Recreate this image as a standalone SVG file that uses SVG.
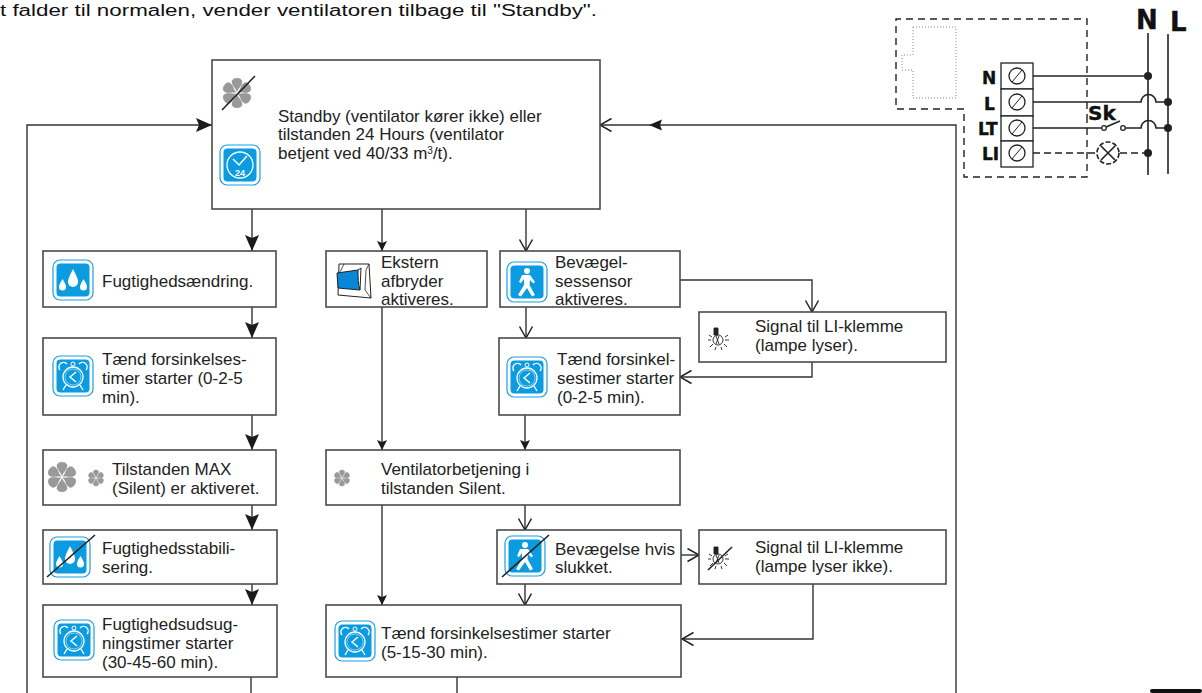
<svg xmlns="http://www.w3.org/2000/svg" width="1202" height="693" viewBox="0 0 1202 693">
<style>
text{font-family:"Liberation Sans",Arial,sans-serif;font-size:17px;fill:#222}
.box{fill:#fff;stroke:#4a4a4a;stroke-width:1.6}
.c{fill:none;stroke:#333;stroke-width:1.4}
.f{fill:#1b1b1b;stroke:none}
.t{font-family:"DejaVu Sans",sans-serif;font-weight:bold;fill:#111;font-size:17px;stroke:#111;stroke-width:.4}
.slash{stroke:#222;stroke-width:1.6}
</style>
<defs>
<path id="petal" d="M0 -1.500C-1 -5 -5.200 -7.500 -5 -11.500C-4.500 -15.800 4.500 -15.800 5 -11.500C5.200 -7.500 1 -5 0 -1.500Z" fill="#999" stroke="#8a8a8a" stroke-width=".5"/>
<g id="fan"><use href="#petal"/><use href="#petal" transform="rotate(60)"/><use href="#petal" transform="rotate(120)"/><use href="#petal" transform="rotate(180)"/><use href="#petal" transform="rotate(240)"/><use href="#petal" transform="rotate(300)"/></g>
<g id="frame"><rect x="-20" y="-20" width="40" height="40" rx="7" fill="#fff" stroke="#1a9ee0" stroke-width="1.2"/><rect x="-16.500" y="-16.500" width="33" height="33" rx="4" fill="#0a9be0"/></g>
<g id="alarm"><use href="#frame"/><circle r="10" cy="1" fill="none" stroke="#fff" stroke-width="1.3"/><circle r="8" cy="1" fill="none" stroke="#fff" stroke-width=".5"/><path d="M3 -4L-3 1L3 6" fill="none" stroke="#fff" stroke-width="1.500"/><path d="M-13 -6A4.500 4.500 0 0 1 -6 -12M13 -6A4.500 4.500 0 0 0 6 -12M-7 9L-10 14M7 9L10 14" fill="none" stroke="#fff" stroke-width="1.4"/><circle cy="-12" r="2" fill="none" stroke="#fff"/></g>
<g id="drops"><use href="#frame"/><g fill="#fff"><path d="M-10.500 -1C-13 3 -14 5 -14 7A3.500 3.500 0 0 0 -7 7C-7 5 -8 3 -10.500 -1Z"/><path d="M0 -11C-3.500 -4 -5 -1 -5 2A5 5 0 0 0 5 2C5 -1 3.500 -4 0 -11Z"/><path d="M10.500 -1C8 3 7 5 7 7A3.500 3.500 0 0 0 14 7C14 5 13 3 10.500 -1Z"/></g></g>
<g id="walk"><use href="#frame"/><circle cx="0" cy="-11" r="3" fill="#fff"/><path d="M-5 -7H3L8 0L6.500 1.500L3 -2L2.500 3L8 13L5 14.500L0 6L-6 14.500L-9 13L-3 3L-3 -3L-6 1L-8 0Z" fill="#fff"/></g>
<g id="bulb" fill="none" stroke="#222" stroke-width=".9"><path d="M-5 -11H-1V-4H-5Z" fill="#222"/><circle cx="-1" cy="1" r="5"/><path d="M-3 -3L0 5M0 -3L-3 5" /><path d="M-11 1H-8M6 1H10M-10 -4L-7 -2M9 -4L6 -2M-9 8L-6 5M8 8L5 5M-4 11L-3 8M3 11L2 8"/></g>
<marker id="big" markerUnits="userSpaceOnUse" markerWidth="18" markerHeight="16" refX="16" refY="7.500" orient="auto"><path d="M0 0.500L16 7.500L0 14.500L3 7.500Z" class="f"/></marker>
<marker id="open" markerUnits="userSpaceOnUse" markerWidth="14" markerHeight="16" refX="12.500" refY="7.500" orient="auto"><path d="M1 1L12.500 7.500L1 14" fill="none" stroke="#222" stroke-width="1.500"/></marker>
<marker id="small" markerUnits="userSpaceOnUse" markerWidth="12" markerHeight="12" refX="10" refY="5" orient="auto"><path d="M0 0L10 5L0 10L2 5Z" class="f"/></marker>
</defs>

<text x="0" y="15.500" textLength="597" lengthAdjust="spacingAndGlyphs" style="font-size:16px;fill:#111">t falder til normalen, vender ventilatoren tilbage til "Standby".</text>

<g id="connectors">
<path class="c" d="M27 693V125H212" marker-end="url(#big)"/>
<path class="c" d="M956 693V125H600" marker-end="url(#open)"/>
<path class="f" d="M649 125L662 119.500L660 125L662 130.500Z"/>
<path class="c" d="M252 209V251" marker-end="url(#big)"/>
<path class="c" d="M382 209V251" marker-end="url(#small)"/>
<path class="c" d="M526 209V251" marker-end="url(#open)"/>
<path class="c" d="M252 307V338" marker-end="url(#big)"/>
<path class="c" d="M252 415V450" marker-end="url(#big)"/>
<path class="c" d="M252 505V530" marker-end="url(#big)"/>
<path class="c" d="M252 584V605" marker-end="url(#big)"/>
<path class="c" d="M251 677V693"/>
<path class="c" d="M382 307V450" marker-end="url(#small)"/>
<path class="c" d="M526 307V338" marker-end="url(#open)"/>
<path class="c" d="M680 280H812V312" marker-end="url(#open)"/>
<path class="c" d="M812 362V377H680" marker-end="url(#open)"/>
<path class="c" d="M525 415V450" marker-end="url(#small)"/>
<path class="c" d="M525 505V530" marker-end="url(#open)"/>
<path class="c" d="M382 505V605" marker-end="url(#small)"/>
<path class="c" d="M525 584V605" marker-end="url(#open)"/>
<path class="c" d="M681 555H699" marker-end="url(#open)"/>
<path class="c" d="M813 584V639H682" marker-end="url(#open)"/>
<path class="c" d="M457 677V693"/>
</g>

<g id="node-standby">
<rect class="box" x="212" y="60" width="388" height="149"/>
<use href="#fan" transform="translate(237,93)"/>
<path class="slash" d="M222 110L255 76"/>
<use href="#frame" transform="translate(240,165)"/>
<circle cx="240" cy="165" r="13" fill="none" stroke="#fff" stroke-width="1.3"/>
<path d="M233 159L239 165L247 156" fill="none" stroke="#fff" stroke-width="1.500"/>
<text x="240" y="176" text-anchor="middle" style="font-size:9px;fill:#fff;font-weight:bold">24</text>
<text x="278" y="122">Standby (ventilator kører ikke) eller</text>
<text x="278" y="140">tilstanden 24 Hours (ventilator</text>
<text x="278" y="159">betjent ved 40/33 m<tspan dy="-5" style="font-size:10px">3</tspan><tspan dy="5">/t).</tspan></text>
</g>

<g id="node-fugt">
<rect class="box" x="43" y="251" width="233" height="56"/>
<use href="#drops" transform="translate(73,280)"/>
<text x="102" y="287">Fugtighedsændring.</text>
</g>

<g id="node-taend1">
<rect class="box" x="43" y="338" width="233" height="77"/>
<use href="#alarm" transform="translate(73,376)"/>
<text x="102" y="365">Tænd forsinkelses-</text>
<text x="102" y="384">timer starter (0-2-5</text>
<text x="102" y="403">min).</text>
</g>

<g id="node-max">
<rect class="box" x="43" y="450" width="233" height="55"/>
<use href="#fan" transform="translate(62,477)"/>
<use href="#fan" transform="translate(96,478) scale(.55)"/>
<text x="112" y="475">Tilstanden MAX</text>
<text x="112" y="494">(Silent) er aktiveret.</text>
</g>

<g id="node-stabil">
<rect class="box" x="43" y="530" width="234" height="54"/>
<use href="#drops" transform="translate(70,557)"/>
<path class="slash" d="M47 577L95 535"/>
<text x="102" y="554">Fugtighedsstabili-</text>
<text x="102" y="573">sering.</text>
</g>

<g id="node-udsug">
<rect class="box" x="43" y="605" width="234" height="72"/>
<use href="#alarm" transform="translate(74,640)"/>
<text x="102" y="630">Fugtighedsudsug-</text>
<text x="102" y="649">ningstimer starter</text>
<text x="102" y="668">(30-45-60 min).</text>
</g>

<g id="node-ekstern">
<rect class="box" x="326" y="251" width="161" height="56"/>
<path d="M339 264L369 264L371 298L338 295Z" fill="#fff" stroke="#222" stroke-width="1"/>
<path d="M344 264L340 272M369 264L366 270L365 290L371 298" fill="none" stroke="#222" stroke-width=".8"/>
<path d="M337 273L358 270C358 278 358 284 360 290L338 288Z" fill="#0a86d8" stroke="#222" stroke-width="1"/>
<path d="M358 270L361 268L360 290" fill="none" stroke="#222" stroke-width="1"/>
<text x="381" y="268">Ekstern</text>
<text x="381" y="287">afbryder</text>
<text x="381" y="305">aktiveres.</text>
</g>

<g id="node-bevaegel">
<rect class="box" x="500" y="251" width="180" height="56"/>
<use href="#walk" transform="translate(527,282)"/>
<text x="555" y="268">Bevægel-</text>
<text x="555" y="287">sessensor</text>
<text x="555" y="305">aktiveres.</text>
</g>

<g id="node-signal1">
<rect class="box" x="699" y="312" width="247" height="50"/>
<use href="#bulb" transform="translate(719,339)"/>
<text x="755" y="332">Signal til LI-klemme</text>
<text x="755" y="351">(lampe lyser).</text>
</g>

<g id="node-taend2">
<rect class="box" x="499" y="338" width="181" height="77"/>
<use href="#alarm" transform="translate(527,377)"/>
<text x="557" y="365">Tænd forsinkel-</text>
<text x="557" y="384">sestimer starter</text>
<text x="557" y="403">(0-2-5 min).</text>
</g>

<g id="node-vent">
<rect class="box" x="326" y="450" width="354" height="55"/>
<use href="#fan" transform="translate(342,478) scale(.55)"/>
<text x="381" y="475">Ventilatorbetjening i</text>
<text x="381" y="494">tilstanden Silent.</text>
</g>

<g id="node-bevaegelse">
<rect class="box" x="497" y="530" width="184" height="54"/>
<use href="#walk" transform="translate(525,556)"/>
<path class="slash" d="M502 577L549 535"/>
<text x="555" y="555">Bevægelse hvis</text>
<text x="555" y="573">slukket.</text>
</g>

<g id="node-signal2">
<rect class="box" x="699" y="530" width="247" height="54"/>
<use href="#bulb" transform="translate(719,558)"/>
<path class="slash" d="M708 570L732 547"/>
<text x="755" y="553">Signal til LI-klemme</text>
<text x="755" y="572">(lampe lyser ikke).</text>
</g>

<g id="node-taend3">
<rect class="box" x="326" y="605" width="355" height="72"/>
<use href="#alarm" transform="translate(355,641)"/>
<text x="381" y="639">Tænd forsinkelsestimer starter</text>
<text x="381" y="658">(5-15-30 min).</text>
</g>

<g id="wiring">
<path d="M1087 121V19H896V109H964V177H1087V121" fill="none" stroke="#222" stroke-width="1.4" stroke-dasharray="7 5"/>
<path d="M913 27H956V98H913V70H902V55H913Z" fill="none" stroke="#888" stroke-width="1" stroke-dasharray="1 2"/>
<g fill="#fff" stroke="#222" stroke-width="1.3">
<rect x="1001" y="63" width="32" height="26"/><rect x="1001" y="89" width="32" height="27"/><rect x="1001" y="116" width="32" height="25"/><rect x="1001" y="141" width="32" height="26"/>
<circle cx="1017" cy="76" r="8"/><circle cx="1017" cy="102" r="8"/><circle cx="1017" cy="128" r="8"/><circle cx="1017" cy="153" r="8"/>
</g>
<path d="M1012 82L1022 70M1012 108L1022 96M1012 134L1022 122M1012 159L1022 147" stroke="#222" stroke-width="1"/>
<g stroke="#222" stroke-width="1.6" fill="none">
<path d="M1148 33V175M1168 34V174"/>
<path d="M1033 76H1148"/>
<path d="M1033 102H1141A7 7 0 0 1 1156 102H1168"/>
<path d="M1033 128H1101M1124 128H1141A7 7 0 0 1 1156 128H1168"/>
<path d="M1106 127L1120 121"/>
<path d="M1033 153H1097M1120 153H1148" stroke-dasharray="7 4"/>
<circle cx="1108" cy="153" r="11" stroke-dasharray="5 2"/>
<path d="M1101 146L1115 160M1115 146L1101 160"/>
</g>
<circle cx="1104" cy="128" r="2.300" fill="#fff" stroke="#222" stroke-width="1.3"/>
<circle cx="1123" cy="128" r="2.300" fill="#fff" stroke="#222" stroke-width="1.3"/>
<g fill="#222"><circle cx="1148" cy="76" r="4"/><circle cx="1168" cy="102" r="4"/><circle cx="1168" cy="128" r="4"/><circle cx="1148" cy="153" r="4"/></g>
<text class="t" x="982" y="84">N</text><text class="t" x="984" y="110">L</text><text class="t" x="978" y="135">LT</text><text class="t" x="982" y="160">LI</text>
<text class="t" x="1088" y="120" style="font-size:20px">Sk</text>
<text class="t" x="1136" y="29" style="font-size:26px">N</text><text class="t" x="1170" y="31" style="font-size:26px">L</text>
</g>
<rect x="1150" y="689" width="52" height="4" rx="2" fill="#111"/>
</svg>
